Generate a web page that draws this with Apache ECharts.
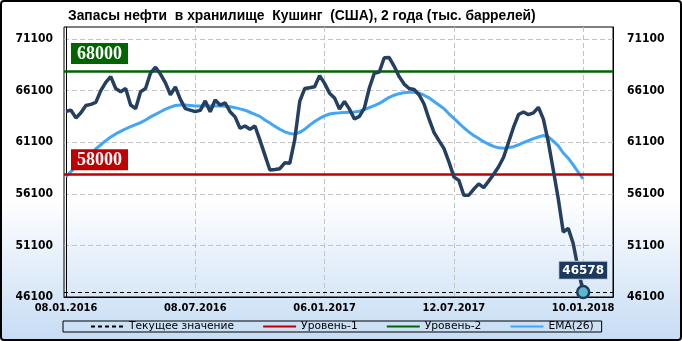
<!DOCTYPE html>
<html><head><meta charset="utf-8">
<script src="https://cdn.jsdelivr.net/npm/echarts@6/dist/echarts.min.js"></script>
<style>html,body{margin:0;padding:0;background:#fff}#c{width:682px;height:341px}</style>
</head><body><div id="c"></div>
<script>
const titleText = 'Запасы нефти  в хранилище  Кушинг  (США), 2 года (тыс. баррелей)';
const stocks = [64100,64200,63450,63950,64650,64760,64950,66100,66900,67450,
  66300,65990,66300,64700,64350,65990,66300,67800,68360,67700,
  66850,65700,66450,65250,64350,64200,64060,64180,65100,64050,
  65190,64700,64900,64050,63550,62450,62670,62350,62670,61300,
  59850,58400,58450,58530,59100,59050,61350,65050,66300,66380,
  66470,67550,66800,65850,65390,64300,65050,64300,63350,63600,
  64400,66350,67780,67900,69280,69300,68450,67450,66730,66300,
  66200,65700,64800,63350,62050,61250,60500,59200,57740,57400,
  55960,55960,56550,57060,56700,57330,57990,58720,59640,61100,
  62550,63780,64030,63760,63940,64480,63330,61100,58380,55600,
  52400,52750,51280,48800,46578];
const ema26 = [57760,58250,58700,59100,59550,60000,60450,60850,61250,61600,
  61900,62150,62400,62600,62800,63000,63250,63550,63800,64050,
  64300,64500,64650,64700,64700,64650,64600,64600,64600,64600,
  64600,64600,64580,64540,64450,64330,64200,64000,63800,63600,
  63250,62950,62650,62350,62100,61950,61880,62050,62350,62750,
  63100,63400,63650,63830,63900,63940,63970,64000,64030,64100,
  64250,64450,64650,64850,65150,65450,65650,65800,65900,65930,
  65940,65850,65650,65400,65050,64700,64350,63850,63400,62950,
  62500,62100,61750,61450,61150,60900,60700,60550,60520,60580,
  60660,60850,61050,61250,61450,61600,61750,61600,61200,60750,
  60050,59550,58900,58200,57550];
const level1 = 58000;
const level2 = 68000;
const xTickIdx = [0, 26, 52, 78, 104];
const xTickText = ['08.01.2016', '08.07.2016', '06.01.2017', '12.07.2017', '10.01.2018'];
const yTickLabels = [46100, 51100, 56100, 61100, 66100, 71100];
const legendNames = ['Текущее значение', 'Уровень-1', 'Уровень-2', 'EMA(26)'];

const lastIdx = stocks.length - 1;
const lastVal = stocks[lastIdx];
const mainData = stocks.map((v, i) => i === lastIdx ? {
  value: [i, v], symbol: 'circle', symbolSize: 12,
  itemStyle: {color: '#5db6d0', borderColor: '#1e3a5c', borderWidth: 2.5},
  label: {show: true, position: 'top', distance: 6, formatter: String(v),
    color: '#fff', fontWeight: 'bold', fontSize: 12, fontFamily: 'DejaVu Sans',
    backgroundColor: '#1d3a5e', borderColor: '#c8d4e0', borderWidth: 1, padding: [3, 3, 2, 3]}
} : [i, v]);
const emaData = ema26.map((v, i) => [i, v]);

const condensed = '"DejaVu Sans Condensed", "DejaVu Sans"';
const xFont = {color: '#000', fontWeight: 'bold', fontSize: 11, fontFamily: condensed};
const yFont = {color: '#000', fontWeight: 'bold', fontSize: 12, fontFamily: condensed};
const gridDash = {color: '#c4c4c4', type: [5, 3], width: 1};

const chart = echarts.init(document.getElementById('c'), null, {renderer: 'canvas'});
chart.setOption({
  animation: false,
  graphic: [{
    type: 'rect', z: -10, silent: true,
    shape: {x: 1, y: 1, width: 680, height: 339, r: 3},
    style: {
      fill: new echarts.graphic.LinearGradient(0, 0, 0, 1, [
        {offset: 0, color: '#ffffff'}, {offset: 0.58, color: '#ffffff'}, {offset: 1, color: '#c6dcf4'}]),
      stroke: '#000', lineWidth: 2
    }
  }],
  title: {
    text: titleText, left: 68, top: 9, padding: 0,
    textStyle: {fontFamily: 'Liberation Sans', fontWeight: 'bold', fontSize: 13.85, color: '#000'}
  },
  legend: {
    data: legendNames, left: 63, top: 321, itemGap: 28, itemWidth: 33, itemHeight: 12,
    padding: [0, 8, 0, 27], borderColor: '#000', borderWidth: 1,
    itemStyle: {opacity: 0},
    textStyle: {fontFamily: 'DejaVu Sans', fontSize: 10.7, color: '#000'},
    selectedMode: false
  },
  grid: {left: 64, right: 69, top: 27, bottom: 44, show: true, borderColor: '#000', borderWidth: 1, backgroundColor: 'transparent'},
  xAxis: {
    type: 'value', min: -0.4, max: 110,
    axisLine: {show: true, onZero: false, lineStyle: {color: '#000', width: 1}},
    axisTick: {show: false, customValues: xTickIdx.slice(1)},
    axisLabel: Object.assign({customValues: xTickIdx, margin: 6,
      formatter: v => xTickText[xTickIdx.indexOf(v)] || ''}, xFont),
    splitLine: {show: true, lineStyle: gridDash}
  },
  yAxis: [{
    type: 'value', min: 46100, max: 72260, position: 'left',
    axisLine: {show: true, lineStyle: {color: '#000'}},
    axisTick: {show: false, customValues: yTickLabels.slice(1)},
    axisLabel: Object.assign({customValues: yTickLabels, margin: 11, formatter: v => String(v)}, yFont),
    splitLine: {show: true, lineStyle: gridDash}
  }, {
    type: 'value', min: 46100, max: 72260, position: 'right',
    axisLine: {show: true, lineStyle: {color: '#000'}},
    axisTick: {show: false, customValues: yTickLabels.slice(1)},
    axisLabel: Object.assign({customValues: yTickLabels, margin: 14, formatter: v => String(v)}, yFont),
    splitLine: {show: false}
  }],
  series: [{
    name: legendNames[0], type: 'line', data: [], symbol: 'none',
    lineStyle: {color: '#000', width: 1, type: [4, 3]},
    markLine: {silent: true, symbol: ['none', 'none'], label: {show: false},
      lineStyle: {color: '#000', width: 1, type: [4, 3]},
      data: [{yAxis: lastVal}]}
  }, {
    name: legendNames[1], type: 'line', data: [], symbol: 'none',
    lineStyle: {color: '#c00000', width: 3},
    markLine: {silent: true, symbol: ['none', 'none'],
      lineStyle: {color: '#c00000', width: 2.5, type: 'solid'},
      label: {show: true, position: 'insideStartTop', distance: [7, 4], formatter: String(level1),
        color: '#fff', fontFamily: '"Liberation Serif", serif', fontWeight: 'bold', fontSize: 18,
        backgroundColor: '#c00000', padding: [2, 6, 1, 6]},
      data: [{yAxis: level1}]}
  }, {
    name: legendNames[2], type: 'line', data: [], symbol: 'none',
    lineStyle: {color: '#006400', width: 3},
    markLine: {silent: true, symbol: ['none', 'none'],
      lineStyle: {color: '#006400', width: 2.5, type: 'solid'},
      label: {show: true, position: 'insideStartTop', distance: [7, 7], formatter: String(level2),
        color: '#fff', fontFamily: '"Liberation Serif", serif', fontWeight: 'bold', fontSize: 18,
        backgroundColor: '#006400', padding: [2, 6, 1, 6]},
      data: [{yAxis: level2}]}
  }, {
    name: legendNames[3], type: 'line', data: emaData, symbol: 'none',
    lineStyle: {color: '#42a5f5', width: 3}, itemStyle: {color: '#42a5f5'}
  }, {
    name: 'Запасы', type: 'line', data: mainData, symbol: 'none',
    lineStyle: {color: '#243f60', width: 3.5}, itemStyle: {color: '#243f60'}, z: 5
  }]
});
</script></body></html>
